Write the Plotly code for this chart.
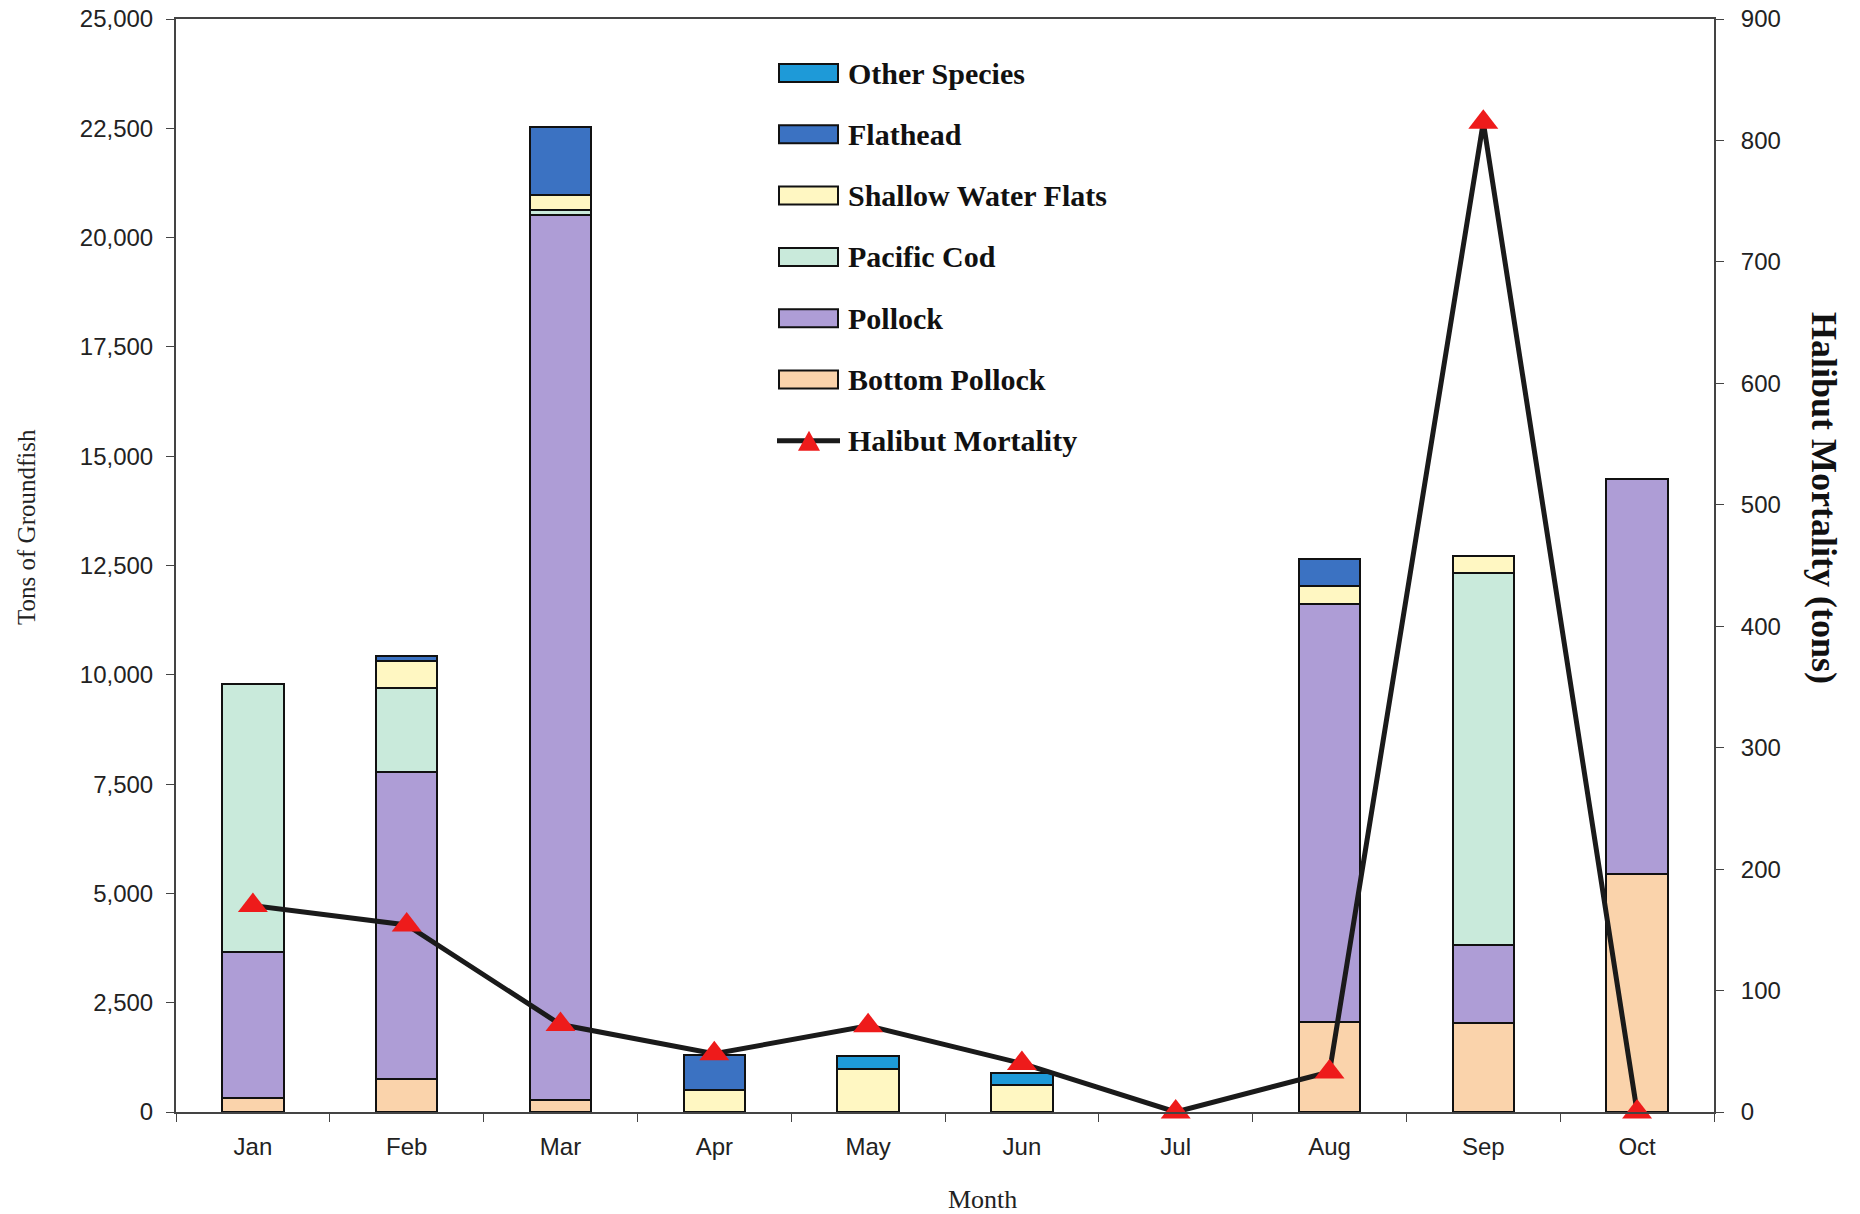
import plotly.graph_objects as go

months = ["Jan", "Feb", "Mar", "Apr", "May", "Jun", "Jul", "Aug", "Sep", "Oct"]
bottom_pollock = [310, 760, 270, 0, 0, 0, 0, 2060, 2040, 5450]
pollock = [3340, 7010, 20240, 0, 0, 0, 0, 9560, 1780, 9020]
pacific_cod = [6140, 1920, 110, 0, 0, 0, 0, 0, 8510, 0]
shallow_water_flats = [0, 620, 360, 500, 980, 610, 0, 420, 390, 0]
flathead = [0, 110, 1560, 810, 0, 0, 0, 600, 0, 0]
other_species = [0, 0, 0, 0, 290, 290, 0, 0, 0, 0]
halibut_mortality = [170, 154, 72, 48, 71, 40, 0, 33, 815, 0]

series = [
    ("Bottom Pollock", bottom_pollock, "#FAD3AB"),
    ("Pollock", pollock, "#AE9DD6"),
    ("Pacific Cod", pacific_cod, "#C9EADB"),
    ("Shallow Water Flats", shallow_water_flats, "#FFF7C2"),
    ("Flathead", flathead, "#3B72C2"),
    ("Other Species", other_species, "#1E9AD8"),
]

W, H = 1860, 1214
ML, MR, MT, MB = 176, 146, 19, 102
PW, PH = W - ML - MR, H - MT - MB

def px(x):  # page x -> paper
    return (x - ML) / PW

def py(y):  # page y -> paper
    return (H - MB - y) / PH

fig = go.Figure()
for name, vals, color in series:
    fig.add_trace(go.Bar(
        x=months, y=[v if v else None for v in vals], name=name,
        marker=dict(color=color, line=dict(color="#111111", width=2)),
        showlegend=False,
    ))

fig.add_trace(go.Scatter(
    x=months, y=halibut_mortality, name="Halibut Mortality", yaxis="y2",
    mode="lines+markers", cliponaxis=False,
    line=dict(color="#1a1a1a", width=5),
    marker=dict(symbol="triangle-up", size=26, color="#EE1B1B", line=dict(width=0)),
    showlegend=False,
))

axis_font = dict(family="Liberation Sans, Arial", size=24, color="#222222")

fig.update_layout(
    width=W, height=H,
    margin=dict(l=ML, r=MR, t=MT, b=MB, autoexpand=False),
    paper_bgcolor="white", plot_bgcolor="white",
    barmode="stack", bargap=0.6,
    xaxis=dict(
        type="category", range=[-0.5, len(months) - 0.5], tickson="boundaries",
        ticks="outside", ticklen=8,
        tickcolor="#444", showline=True, linecolor="#444", linewidth=2,
        mirror=True, showgrid=False, tickfont=axis_font, ticklabelstandoff=12,
        automargin=False, ticklabeloverflow="allow",
    ),
    yaxis=dict(
        range=[0, 25000], dtick=2500, tickformat=",d", ticks="outside", ticklen=8,
        tickcolor="#444", showline=True, linecolor="#444", linewidth=2,
        showgrid=False, zeroline=False, tickfont=axis_font, ticklabelstandoff=8,
        automargin=False, ticklabeloverflow="allow",
    ),
    yaxis2=dict(
        range=[0, 900], dtick=100, overlaying="y", side="right", ticks="outside",
        ticklen=8, tickcolor="#444", showline=True, linecolor="#444", linewidth=2,
        showgrid=False, zeroline=False, tickfont=axis_font, ticklabelstandoff=12,
        automargin=False, ticklabeloverflow="allow",
    ),
)

annotations = [
    dict(text="Tons of Groundfish", x=px(26), y=py(527), textangle=-90,
         font=dict(family="Liberation Serif, Times New Roman", size=25, color="#222")),
    dict(text="Month", x=px(982), y=py(1199),
         font=dict(family="Liberation Serif, Times New Roman", size=26, color="#222")),
    dict(text="<b>Halibut Mortality (tons)</b>", x=px(1824), y=py(498), textangle=90,
         font=dict(family="Liberation Serif, Times New Roman", size=36, color="#111")),
]

shapes = []
legend_items = [
    ("Other Species", "#1E9AD8"),
    ("Flathead", "#3B72C2"),
    ("Shallow Water Flats", "#FFF7C2"),
    ("Pacific Cod", "#C9EADB"),
    ("Pollock", "#AE9DD6"),
    ("Bottom Pollock", "#FAD3AB"),
]
row0, step = 73, 61.3
sx0, sx1, sh = 779, 838, 18
tx = 846
for i, (name, color) in enumerate(legend_items):
    cy = row0 + step * i
    shapes.append(dict(type="rect", xref="paper", yref="paper",
                       x0=px(sx0), x1=px(sx1), y0=py(cy + sh / 2), y1=py(cy - sh / 2),
                       fillcolor=color, line=dict(color="#111", width=2)))
    annotations.append(dict(text="<b>" + name + "</b>", x=px(tx), y=py(cy), xanchor="left",
                            font=dict(family="Liberation Serif, Times New Roman", size=30, color="#111")))
cy = row0 + step * 6
shapes.append(dict(type="line", xref="paper", yref="paper",
                   x0=px(777), x1=px(840), y0=py(cy), y1=py(cy),
                   line=dict(color="#1a1a1a", width=5)))
tcx, tw, th = 809, 22, 20
path = "M {:.5f} {:.5f} L {:.5f} {:.5f} L {:.5f} {:.5f} Z".format(
    px(tcx - tw / 2), py(cy + th / 2), px(tcx + tw / 2), py(cy + th / 2), px(tcx), py(cy - th / 2))
shapes.append(dict(type="path", xref="paper", yref="paper", path=path,
                   fillcolor="#EE1B1B", line=dict(width=0)))
annotations.append(dict(text="<b>Halibut Mortality</b>", x=px(tx), y=py(cy), xanchor="left",
                        font=dict(family="Liberation Serif, Times New Roman", size=30, color="#111")))

for a in annotations:
    a.setdefault("xref", "paper")
    a.setdefault("yref", "paper")
    a.setdefault("xanchor", "center")
    a["yanchor"] = "middle"
    a["showarrow"] = False

fig.update_layout(annotations=annotations, shapes=shapes)
fig.write_html(
    "out.html",
    config={"displayModeBar": False},
    post_script="document.body.style.margin='0';document.body.style.overflow='hidden';",
)
